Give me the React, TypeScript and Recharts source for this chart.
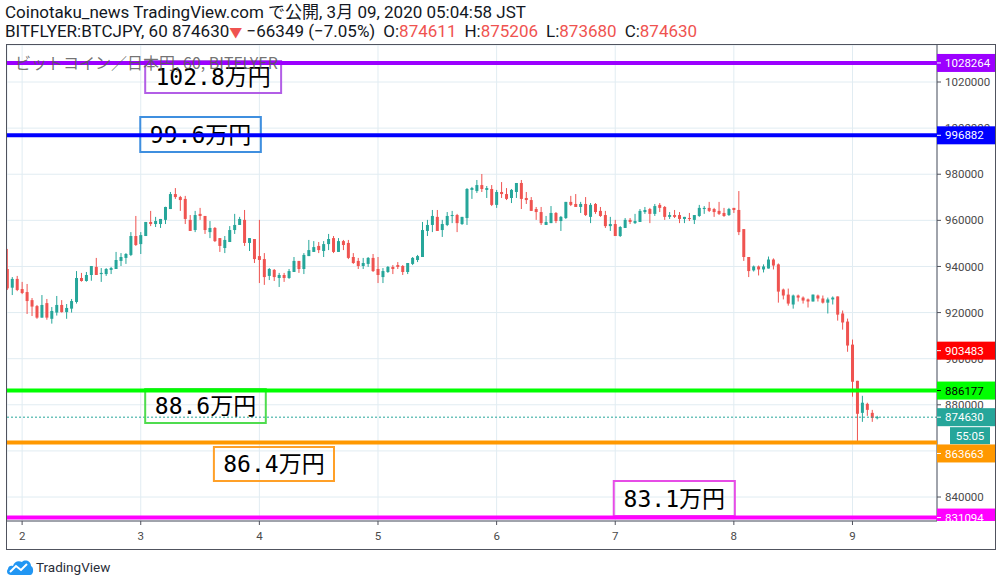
import React from "react"
import {
  ComposedChart,
  Bar,
  XAxis,
  YAxis,
  CartesianGrid,
  ReferenceLine,
  ReferenceArea,
} from "recharts"

// hourly BTC/JPY candles, Mar 1 21:00 → Mar 9 05:00 (JST)
const opens = [
  938900, 930800, 934600, 930200, 928900, 925400, 922800, 917800, 924100, 917300,
  920000, 923300, 920200, 921700, 924600, 935000, 933700, 936300, 939800, 936700,
  936700, 938500, 938900, 942400, 943700, 945000, 953200, 949700, 953200, 959300,
  958400, 958400, 960200, 964900, 971400, 970100, 969300, 960200, 955800, 962800,
  961900, 954900, 956700, 952300, 948000, 950600, 955800, 958000, 960200, 950200,
  951900, 944500, 943200, 935900, 938500, 935000, 936300, 935000, 937600, 942400,
  938900, 944500, 946300, 948900, 946700, 949700, 952300, 946300, 951000, 950200,
  944100, 942400, 940200, 941100, 943700, 938900, 935400, 937600, 939800, 940600,
  940200, 937600, 941100, 942800, 944100, 955400, 958000, 961500, 955800, 958000,
  961900, 962300, 958400, 961000, 973200, 972700, 975300, 973200, 973600, 966700,
  972300, 971400, 969700, 972300, 976200, 969700, 968800, 964900, 963600, 958000,
  958800, 963200, 959700, 961000, 968000, 967100, 965800, 967100, 961500, 967100,
  964100, 962300, 957500, 958400, 953200, 956700, 960200, 958800, 959300, 963600,
  964900, 962800, 966700, 965800, 961500, 962300, 962300, 960600, 961000, 960200,
  961900, 964900, 965400, 964900, 964100, 963200, 962300, 965400, 964500, 956200,
  944100, 938300, 940000, 938700, 939100, 943000, 940900, 930000, 927800, 923500,
  927400, 926500, 925700, 924800, 927400, 926100, 924300, 925700, 927000, 919600,
  916100, 906100, 890400, 876500, 880400, 876500, 874611,
]
const highs = [
  947600, 935400, 935900, 933300, 932400, 926300, 923300, 927600, 925900, 922400,
  927200, 925400, 923700, 925900, 938000, 937200, 937600, 940200, 943700, 939300,
  939300, 939800, 946300, 945800, 945800, 954900, 961900, 954900, 959300, 964100,
  961500, 960600, 965900, 972300, 974000, 970600, 970600, 962300, 964100, 965400,
  961900, 959700, 957100, 952300, 953200, 957500, 962800, 961500, 964500, 952300,
  951900, 960200, 945800, 939300, 938900, 937200, 937200, 938900, 944100, 942400,
  945800, 951500, 951000, 950600, 951000, 954100, 953200, 952300, 951500, 951500,
  945800, 943700, 943700, 944100, 945400, 944100, 939300, 940200, 940600, 941900,
  940600, 941500, 944100, 945000, 959300, 960200, 964500, 964500, 960200, 963600,
  964100, 962800, 961500, 974000, 974500, 977500, 980100, 974900, 975300, 973200,
  976600, 974000, 973600, 976200, 977500, 972300, 970100, 965800, 965800, 961900,
  966200, 963600, 961900, 968000, 970600, 971400, 968000, 970100, 967500, 967500,
  965800, 964100, 961500, 960200, 957500, 961000, 961000, 962800, 964900, 965800,
  965400, 967100, 967500, 966200, 963600, 964500, 963600, 961500, 963200, 962300,
  966700, 966200, 968000, 965400, 968000, 965400, 965400, 965400, 972700, 956200,
  944100, 940400, 940400, 940900, 944300, 943500, 941300, 930400, 930400, 927800,
  927800, 927000, 926100, 927800, 927800, 927400, 926500, 927000, 927000, 920900,
  917400, 908300, 890400, 883900, 880900, 877800, 875206,
]
const lows = [
  929800, 927600, 929300, 928000, 919400, 918500, 917300, 917800, 916900, 915200,
  918700, 920000, 917300, 920000, 923900, 933400, 933400, 933800, 936300, 933300,
  935900, 936700, 938900, 940200, 941100, 944500, 948900, 945400, 953200, 957500,
  957100, 956700, 958400, 964900, 969300, 964100, 958400, 955400, 954900, 960200,
  954100, 952300, 950600, 946300, 945800, 950600, 954100, 958000, 948900, 946700,
  941500, 932800, 932000, 934100, 933700, 931100, 933300, 934600, 937600, 937200,
  936700, 944500, 946300, 945800, 944100, 947100, 945800, 946300, 947100, 943200,
  941100, 938900, 938900, 939800, 937600, 932800, 932800, 937200, 936700, 938900,
  936300, 936700, 940600, 941900, 944100, 953200, 954900, 955400, 952800, 957500,
  958800, 954900, 958000, 958000, 969300, 971900, 972300, 969700, 966200, 965400,
  969700, 968800, 967500, 969700, 964900, 967100, 964100, 960200, 958000, 958000,
  958800, 958800, 955400, 960600, 966200, 965800, 963200, 961900, 958800, 962800,
  961500, 956700, 955400, 953200, 952800, 956700, 958400, 958400, 959300, 962800,
  958800, 961900, 963600, 960200, 960600, 961000, 958800, 958800, 959700, 958400,
  961500, 962800, 963600, 961500, 962300, 961500, 961900, 963200, 953600, 942400,
  935400, 937800, 936100, 937400, 939100, 938700, 924300, 925700, 923000, 921700,
  924800, 923900, 922200, 924800, 924800, 923900, 919600, 923500, 916500, 912600,
  903000, 883500, 863900, 872600, 875200, 872600, 873680,
]
const closes = [
  930500, 934600, 929800, 928500, 925000, 922600, 917800, 923300, 917800, 920700,
  923300, 920200, 922000, 925000, 935000, 933700, 936300, 940200, 936300, 937200,
  938900, 939300, 942800, 944100, 945400, 953200, 949300, 953600, 959300, 958400,
  959700, 960600, 965800, 971400, 970100, 968800, 960600, 955400, 962300, 961900,
  955800, 956700, 951000, 948900, 951500, 955800, 958000, 960600, 950200, 952300,
  943200, 942800, 935400, 938900, 935400, 936300, 935000, 938000, 942400, 938900,
  945000, 947100, 948400, 947100, 949700, 951900, 946300, 951000, 949300, 943700,
  941500, 940200, 941500, 943700, 938000, 936300, 938000, 939800, 938900, 939800,
  937600, 941500, 943700, 944500, 955800, 958000, 961900, 955400, 958400, 961900,
  962300, 958800, 961500, 973600, 974000, 975300, 973600, 974000, 966700, 972300,
  971400, 969300, 973200, 976200, 969300, 968800, 964100, 963600, 958800, 959300,
  963200, 959700, 961500, 968000, 966700, 965800, 967100, 962300, 966700, 963600,
  961900, 957500, 958400, 953200, 957100, 960200, 959300, 959700, 964100, 964500,
  962800, 966200, 965400, 961500, 962300, 961500, 960600, 961500, 960600, 962300,
  965400, 965400, 964100, 963600, 962800, 961900, 964900, 964500, 954900, 944100,
  938000, 940000, 938700, 940000, 943000, 940400, 929100, 927400, 923900, 927400,
  926500, 925200, 924800, 927800, 926100, 924300, 925700, 926500, 919100, 915700,
  905700, 890000, 876100, 880900, 877800, 874300, 874630,
]

const dayTicks = [3, 27, 51, 75, 99, 123, 147, 171]
const dayLabels = ["2", "3", "4", "5", "6", "7", "8", "9"]
const priceTicks = [840000, 860000, 880000, 900000, 920000, 940000, 960000, 980000, 1000000, 1020000]

const levelPrices = [1028264, 996882, 886177, 863663, 831094]
const levelNotes = ["102.8万円", "99.6万円", "88.6万円", "86.4万円", "83.1万円"]
const lastPrice = 874630
const markerPrice = 903483
const countdown = "55:05"

const candles = opens.map((o, i) => ({
  i,
  open: o,
  high: highs[i],
  low: lows[i],
  close: closes[i],
  range: [lows[i], highs[i]],
}))

// text-box drawings, anchored in candle index / price like the TV drawing tool
const noteFrom = [27.9, 26.9, 27.9, 41.8, 122.7]
const noteTo = [55.4, 51.3, 52.3, 66.1, 147.2]
const noteTop = [1029100, 1004800, 886900, 861700, 847000]
const noteBottom = [1015200, 989600, 872100, 847000, 831800]

const UP = "#26a69a"
const DOWN = "#ef5350"
const levelColors = ["#9c00ff", "#0000ff", "#00ff00", "#ff9800", "#ff00ff"]
const levelText = ["#fff", "#fff", "#000", "#fff", "#fff"]
const levelShift = [0, 0, 0, 11, 0]
const boxColors = ["#b25ee6", "#3f8fdf", "#4fdc4f", "#ffa028", "#e64ce6"]

const CHART_W = 995
const CHART_H = 549
const TOP = 45
const LEFT = 7
const AXIS_W = 58
const AXIS_H = 28
const PLOT_BOTTOM = CHART_H - AXIS_H
const X_DOMAIN = [-0.06, 188.1]
const Y_DOMAIN = [829600, 1036050]
const FONT = "Roboto, 'Noto Sans CJK JP', sans-serif"

function Candle(props: any) {
  const { x, y, width, height, payload } = props
  if (!payload) return null
  const { open, close, high, low } = payload
  const color = close >= open ? UP : DOWN
  const k = height / (high - low || 1)
  const top = y + (high - Math.max(open, close)) * k
  const bot = y + (high - Math.min(open, close)) * k
  const cx = x + width / 2
  return (
    <g>
      <line x1={cx} x2={cx} y1={y} y2={y + height} stroke={color} strokeWidth={1} />
      <rect x={x} y={top} width={width} height={Math.max(1, bot - top)} fill={color} />
    </g>
  )
}

let tagId = 0
function PriceTag(props: any) {
  const { viewBox, text, bg, fg, shift = 0, timer } = props
  if (!viewBox) return null
  const x = viewBox.x + viewBox.width
  const cy = viewBox.y + shift
  const id = `tagclip${tagId++}`
  return (
    <g>
      <defs>
        <clipPath id={id}>
          <rect x={0} y={0} width={CHART_W} height={PLOT_BOTTOM} />
        </clipPath>
      </defs>
      <g clipPath={`url(#${id})`}>
        <rect x={x} y={cy - 9} width={AXIS_W} height={18} fill={bg} />
        <line x1={x} x2={x + 4} y1={cy} y2={cy} stroke={fg} />
        <text x={x + 8} y={cy} dy="0.36em" fontSize={11.5} fill={fg} fontFamily={FONT}>
          {text}
        </text>
        {timer && (
          <g>
            <rect x={x + 13} y={cy + 10} width={40} height={17} fill={bg} />
            <text x={x + 33} y={cy + 18.5} dy="0.36em" textAnchor="middle" fontSize={11.5} fill={fg} fontFamily={FONT}>
              {timer}
            </text>
          </g>
        )}
      </g>
    </g>
  )
}

function NoteText(props: any) {
  const { viewBox, text } = props
  if (!viewBox) return null
  return (
    <text
      x={viewBox.x + viewBox.width / 2}
      y={viewBox.y + viewBox.height / 2}
      dy="0.36em"
      textAnchor="middle"
      fontSize={23}
      fill="#000"
      fontFamily="'DejaVu Sans Mono', 'Noto Sans CJK JP', monospace"
    >
      {text}
    </text>
  )
}

function Logo() {
  return (
    <svg width={28} height={18} viewBox="0 0 28 18">
      <path
        d="M5 17 C1 17 0 13 2 11 C2 8 5 7 7 8 C8 4 12 2 16 4 C19 1 25 3 25 8 C28 9 28 17 24 17 Z"
        fill="#2196f3"
      />
      <polyline points="4,14 10,8 15,12 21,6" fill="none" stroke="#fff" strokeWidth={2} />
    </svg>
  )
}

const gap = { marginLeft: 8 }

export default function App() {
  return (
    <div
      style={{
        position: "absolute",
        left: 0,
        top: 0,
        width: 1002,
        height: 586,
        background: "#fff",
        fontFamily: FONT,
        color: "#131722",
        overflow: "hidden",
      }}
    >
      <div style={{ position: "absolute", left: 5, top: 2, fontSize: 17, lineHeight: "20px", whiteSpace: "nowrap" }}>
        Coinotaku_news TradingView.com で公開, 3月 09, 2020 05:04:58 JST
      </div>
      <div style={{ position: "absolute", left: 5, top: 21, fontSize: 17, lineHeight: "20px", whiteSpace: "nowrap" }}>
        BITFLYER:BTCJPY, 60 874630
        <span style={{ color: DOWN, fontSize: 13 }}>▼</span> −66349 (−7.05%)
        <span style={gap}>O:</span>
        <span style={{ color: DOWN }}>874611</span>
        <span style={gap}>H:</span>
        <span style={{ color: DOWN }}>875206</span>
        <span style={gap}>L:</span>
        <span style={{ color: DOWN }}>873680</span>
        <span style={gap}>C:</span>
        <span style={{ color: DOWN }}>874630</span>
      </div>

      {/* price pane: grid, axes, candles */}
      <div style={{ position: "absolute", left: 0, top: 0 }}>
        <ComposedChart
          width={CHART_W}
          height={CHART_H}
          data={candles}
          margin={{ top: TOP, left: LEFT, right: 0, bottom: 0 }}
        >
          <CartesianGrid stroke="#e1ecf2" />
          <XAxis
            dataKey="i"
            type="number"
            domain={X_DOMAIN}
            allowDataOverflow
            ticks={dayTicks}
            tickFormatter={(v: number) => dayLabels[dayTicks.indexOf(v)]}
            height={AXIS_H}
            tickSize={4}
            tickMargin={7}
            axisLine={{ stroke: "#50535e" }}
            tickLine={{ stroke: "#50535e" }}
            tick={{ fontSize: 11.5, fill: "#4a4a4a", fontFamily: FONT }}
          />
          <YAxis
            orientation="right"
            type="number"
            domain={Y_DOMAIN}
            allowDataOverflow
            ticks={priceTicks}
            width={AXIS_W}
            tickSize={4}
            tickMargin={4}
            axisLine={{ stroke: "#50535e" }}
            tickLine={{ stroke: "#50535e" }}
            tick={{ fontSize: 11.5, fill: "#4a4a4a", fontFamily: FONT, textAnchor: "start" }}
          />
          <Bar dataKey="range" barSize={3} shape={<Candle />} isAnimationActive={false} />
          <ReferenceLine y={lastPrice} stroke={UP} strokeDasharray="2 2" />
        </ComposedChart>
      </div>

      {/* drawings layer: horizontal levels, price tags, text boxes */}
      <div style={{ position: "absolute", left: 0, top: 0 }}>
        <ComposedChart
          width={CHART_W}
          height={CHART_H}
          data={candles}
          margin={{ top: TOP, left: LEFT, right: AXIS_W, bottom: AXIS_H }}
        >
          <XAxis dataKey="i" type="number" domain={X_DOMAIN} allowDataOverflow hide />
          <YAxis type="number" domain={Y_DOMAIN} allowDataOverflow hide />
          <ReferenceLine
            y={lastPrice}
            strokeOpacity={0}
            label={<PriceTag text={String(lastPrice)} bg={UP} fg="#fff" timer={countdown} />}
          />
          <ReferenceLine
            y={markerPrice}
            strokeOpacity={0}
            label={<PriceTag text={String(markerPrice)} bg="#ff0000" fg="#fff" />}
          />
          {levelPrices.map((p, k) => (
            <ReferenceLine
              key={`lvl${k}`}
              y={p}
              stroke={levelColors[k]}
              strokeWidth={4}
              ifOverflow="visible"
              label={<PriceTag text={String(p)} bg={levelColors[k]} fg={levelText[k]} shift={levelShift[k]} />}
            />
          ))}
          {levelNotes.map((t, k) => (
            <ReferenceArea
              key={`note${k}`}
              x1={noteFrom[k]}
              x2={noteTo[k]}
              y1={noteBottom[k]}
              y2={noteTop[k]}
              fill="none"
              fillOpacity={0}
              stroke={boxColors[k]}
              strokeWidth={2}
              ifOverflow="visible"
              label={<NoteText text={t} />}
            />
          ))}
        </ComposedChart>
      </div>

      <div
        style={{
          position: "absolute",
          left: 15,
          top: 50,
          fontSize: 16,
          color: "rgba(90,90,90,0.85)",
          fontFamily: "'Noto Sans CJK JP', sans-serif",
          whiteSpace: "nowrap",
        }}
      >
        ビットコイン／日本円, 60, BITFLYER
      </div>

      <div
        style={{
          position: "absolute",
          left: 6,
          top: 44,
          width: 990,
          height: 506,
          border: "1px solid #50535e",
          boxSizing: "border-box",
          pointerEvents: "none",
        }}
      />

      <div style={{ position: "absolute", left: 6, top: 558, display: "flex", alignItems: "center", gap: 2 }}>
        <Logo />
        <span style={{ fontSize: 13.5, color: "#2a2e39" }}>TradingView</span>
      </div>
    </div>
  )
}
